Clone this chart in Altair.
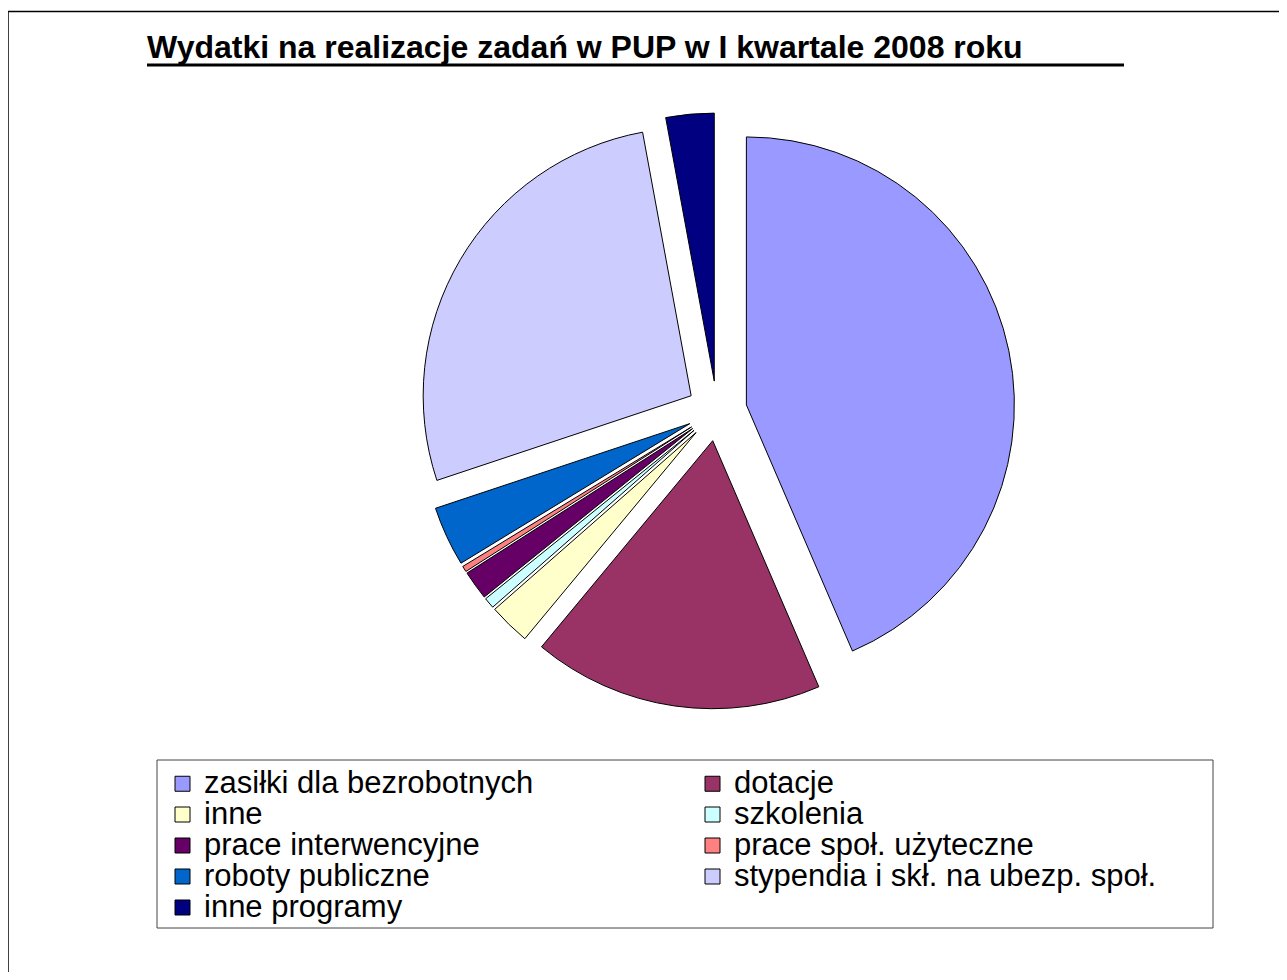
import altair as alt
import pandas as pd

# ---- data ----
labels = [
    "zasiłki dla bezrobotnych",
    "dotacje",
    "inne",
    "szkolenia",
    "prace interwencyjne",
    "prace społ. użyteczne",
    "roboty publiczne",
    "stypendia i skł. na ubezp. społ.",
    "inne programy",
]
shares = [43.5, 17.5, 2.5, 0.65, 1.75, 0.35, 3.6, 27.2, 2.9]
colors = ["#9999FF", "#993366", "#FFFFCC", "#CCFFFF", "#660066",
          "#FF8080", "#0066CC", "#CCCCFF", "#000080"]
title_text = "Wydatki na realizacje zadań w PUP w I kwartale 2008 roku"

df = pd.DataFrame({"label": labels, "value": shares, "order": list(range(len(labels)))})

W, H = 1271, 964
CX, CY = 709, 403
R = 268
EXPLODE = 30
FONT = "Liberation Sans"

pie = (
    alt.Chart(df)
    .transform_window(cum="sum(value)", sort=[alt.SortField("order")], frame=[None, 0])
    .transform_joinaggregate(total="sum(value)")
    .transform_calculate(
        t1="(datum.cum - datum.value) / datum.total * 2 * PI",
        t2="datum.cum / datum.total * 2 * PI",
    )
    .transform_calculate(mid="(datum.t1 + datum.t2) / 2")
    .transform_calculate(
        px=f"{CX} + {EXPLODE} * sin(datum.mid)",
        py=f"{CY} - {EXPLODE} * cos(datum.mid)",
    )
    .mark_arc(outerRadius=R, stroke="black", strokeWidth=1)
    .encode(
        theta=alt.Theta("t1:Q", scale=None),
        theta2="t2:Q",
        x=alt.X("px:Q", scale=None),
        y=alt.Y("py:Q", scale=None),
        color=alt.Color(
            "label:N",
            scale=alt.Scale(domain=labels, range=colors),
            sort=labels,
            legend=alt.Legend(
                title=None,
                orient="none",
                direction="horizontal",
                legendX=159,
                legendY=760,
                padding=0,
                columns=2,
                columnPadding=163,
                rowPadding=-3,
                symbolType="square",
                symbolSize=225,
                symbolStrokeColor="black",
                symbolStrokeWidth=1,
                symbolOpacity=1,
                labelFont=FONT,
                labelFontSize=31,
                labelColor="black",
                labelOffset=6,
                labelLimit=800,
            ),
        ),
    )
)

one = alt.Data(values=[{"a": 1}])

title = alt.Chart(one).mark_text(
    text=title_text, font=FONT, fontSize=32, fontWeight="bold",
    align="left", baseline="alphabetic", color="black"
).encode(x=alt.value(139), y=alt.value(50))

underline = alt.Chart(one).mark_rule(color="black", strokeWidth=3).encode(
    x=alt.value(139), x2=alt.value(1116), y=alt.value(57)
)

border_left = alt.Chart(one).mark_rule(color="black", strokeWidth=1.5).encode(
    x=alt.value(0), y=alt.value(3.5), y2=alt.value(H)
)
border_top = alt.Chart(one).mark_rule(color="black", strokeWidth=1.5).encode(
    x=alt.value(0), x2=alt.value(W), y=alt.value(3.5)
)

legend_box = alt.Chart(one).mark_rect(fill="white", stroke="#444444", strokeWidth=1).encode(
    x=alt.value(149), x2=alt.value(1205), y=alt.value(752), y2=alt.value(920)
)

chart = (
    alt.layer(border_left, border_top, legend_box, pie, title, underline)
    .properties(
        width=W, height=H, padding=0,
        autosize=alt.AutoSizeParams(type="none"),
        background="white",
    )
    .configure_view(stroke=None)
)

chart.save("out.html", embed_options={"renderer": "svg", "actions": False})
